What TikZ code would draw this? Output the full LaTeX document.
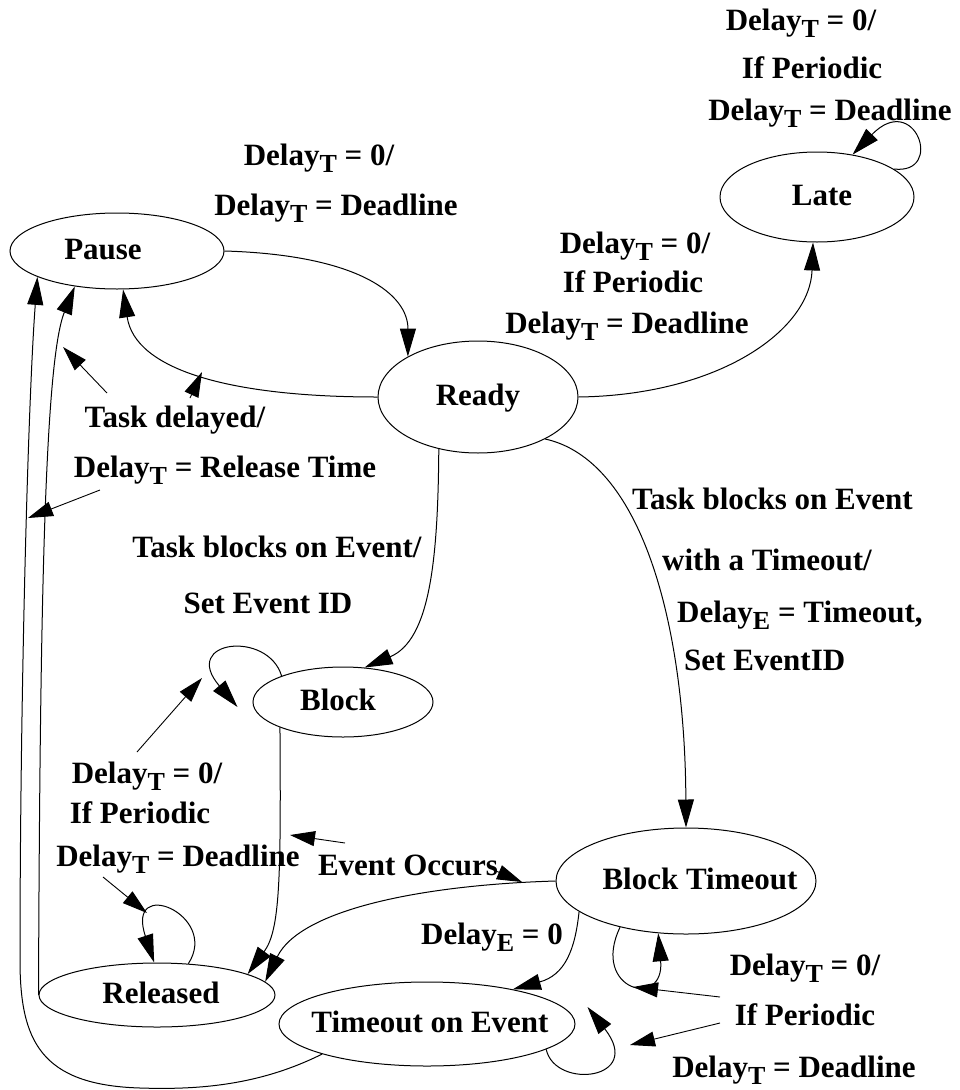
\documentclass[tikz,border=0pt]{standalone}
\usepackage{fontspec}
\setmainfont{Liberation Serif}
\usetikzlibrary{shapes.geometric,arrows.meta}
% lowered subscript used in the Delay labels
\newcommand{\lowsub}[1]{\raisebox{-7pt}{\fontsize{26}{26}\selectfont #1}}
\newcommand{\DelayT}{Delay\lowsub{T}}
\newcommand{\DelayE}{Delay\lowsub{E}}

\begin{document}
\begin{tikzpicture}[x=1pt,y=-1pt,
  txt/.style={font=\bfseries\fontsize{31}{38}\selectfont, inner sep=0pt},
  stnode/.style={txt, draw, ellipse, line width=1pt, text height=22pt, text depth=6pt},
  tr/.style={line width=1pt, -{Triangle[length=28pt,width=16pt]}},
  ptr/.style={line width=0.9pt, -{Triangle[length=25pt,width=15pt]}}]

\useasboundingbox (0,0) rectangle (960,1090);

% states
\node[stnode, minimum width=214pt, minimum height=76pt]  (pause) at (117,251)  {\makebox[0pt]{Pause\hspace*{28pt}}};
\node[stnode, minimum width=200pt, minimum height=112pt] (ready) at (478,397)  {\makebox[0pt]{Ready}};
\node[stnode, minimum width=194pt, minimum height=90pt]  (late)  at (817,197)  {\makebox[0pt]{\hspace*{10pt}Late}};
\node[stnode, minimum width=180pt, minimum height=70pt]  (block) at (343,702)  {\makebox[0pt]{Block\hspace*{10pt}}};
\node[stnode, minimum width=260pt, minimum height=106pt] (bt)    at (686,881)  {\makebox[0pt]{\hspace*{28pt}Block Timeout}};
\node[stnode, minimum width=236pt, minimum height=64pt]  (rel)   at (157,995)  {\makebox[0pt]{\hspace*{8pt}Released}};
\node[stnode, minimum width=296pt, minimum height=84pt]  (toe)   at (427,1024) {\makebox[0pt]{\hspace*{6pt}Timeout on Event}};

% transition labels
\node[txt, anchor=base] (lPR1) at (319,165) {\DelayT{} = 0/};
\node[txt, anchor=base] (lPR2) at (336,215) {\DelayT{} = Deadline};
\node[txt, anchor=base] (lTD1) at (175,427) {Task delayed/};
\node[txt, anchor=base] (lTD2) at (225,477) {\DelayT{} = Release Time};
\node[txt, anchor=base] (lRL1) at (635,253) {\DelayT{} = 0/};
\node[txt, anchor=base] (lRL2) at (633,292) {If Periodic};
\node[txt, anchor=base] (lRL3) at (627,333) {\DelayT{} = Deadline};
\node[txt, anchor=base] (lLL1) at (801,30)  {\DelayT{} = 0/};
\node[txt, anchor=base] (lLL2) at (812,78)  {If Periodic};
\node[txt, anchor=base] (lLL3) at (830,120) {\DelayT{} = Deadline};
\node[txt, anchor=base] (lRB1) at (277,557) {Task blocks on Event/};
\node[txt, anchor=base] (lRB2) at (268,613) {Set Event ID};
\node[txt, anchor=base west] (lRT1) at (632,509) {Task blocks on Event};
\node[txt, anchor=base west] (lRT2) at (662,570) {with a Timeout/};
\node[txt, anchor=base west] (lRT3) at (677,622) {\DelayE{} = Timeout,};
\node[txt, anchor=base west] (lRT4) at (684,670) {Set EventID};
\node[txt, anchor=base] (lBL1) at (147,783) {\DelayT{} = 0/};
\node[txt, anchor=base] (lBL2) at (140,823) {If Periodic};
\node[txt, anchor=base] (lBL3) at (178,866) {\DelayT{} = Deadline};
\node[txt, anchor=base] (lEO)  at (408,875) {Event Occurs};
\node[txt, anchor=base] (lDE)  at (492,944) {\DelayE{} = 0};
\node[txt, anchor=base] (lBR1) at (805,975) {\DelayT{} = 0/};
\node[txt, anchor=base] (lBR2) at (805,1025) {If Periodic};
\node[txt, anchor=base] (lBR3) at (794,1077) {\DelayT{} = Deadline};

% transitions
\draw[tr] (pause.east) .. controls (360,255) and (408,295) .. (ready.150);
\draw[tr] (ready.west) .. controls (230,397) and (135,370) .. (pause.-81);
\draw[tr] (ready.east) .. controls (720,395) and (810,330) .. (late.-95);
\draw[tr] (late.20) .. controls (945,175) and (915,90) .. (late.50);
\draw[tr] (ready.-127) .. controls (438,560) and (430,640) .. (block.58);
\draw[tr] (ready.-32) .. controls (640,460) and (685,620) .. (bt.north);
\draw[tr] (block.157) .. controls (268,630) and (180,640) .. ([xshift=-15pt,yshift=-5pt]block.west);
\draw[tr] (block.-158) .. controls (281,880) and (280,930) .. (rel.13);
\draw[tr] (bt.west) .. controls (420,885) and (300,910) .. (rel.7);
\draw[tr] (bt.-164) .. controls (575,950) and (565,975) .. (toe.22);
\draw[tr] (bt.-145) .. controls (590,990) and (665,1010) .. (bt.-118);
\draw[tr] (toe.-12) .. controls (555,1090) and (645,1080) .. ([xshift=12pt,yshift=17pt]toe.east);
\draw[tr] (rel.45) .. controls (220,915) and (125,875) .. (rel.95);
\draw[tr] (rel.west) .. controls (40,600) and (45,360) .. (pause.-140);
\draw[tr] (toe.-164) .. controls (260,1085) and (200,1090) .. (140,1088)
          .. controls (40,1085) and (20,1040) .. (20,960)
          .. controls (20,700) and (28,400) .. (pause.-162);

% label pointers
\coordinate (pA0) at (107,393);  \coordinate (pA1) at (63,347);
\coordinate (pB0) at (190,398);  \coordinate (pB1) at (202,372);
\coordinate (pC0) at (100,490);  \coordinate (pC1) at (28,518);
\coordinate (pD0) at (137,752);  \coordinate (pD1) at (202,678);
\coordinate (pE0) at (103,877);  \coordinate (pE1) at (147,913);
\coordinate (pF0) at (345,843);  \coordinate (pF1) at (290,835);
\coordinate (pG0) at (496,871);  \coordinate (pG1) at (522,882);
\coordinate (pH0) at (720,997);  \coordinate (pH1) at (633,987);
\coordinate (pI0) at (720,1023); \coordinate (pI1) at (630,1045);
\foreach \p in {A,B,C,D,E,F,G,H,I}
  \draw[ptr] (p\p0) -- (p\p1);

\end{tikzpicture}
\end{document}
